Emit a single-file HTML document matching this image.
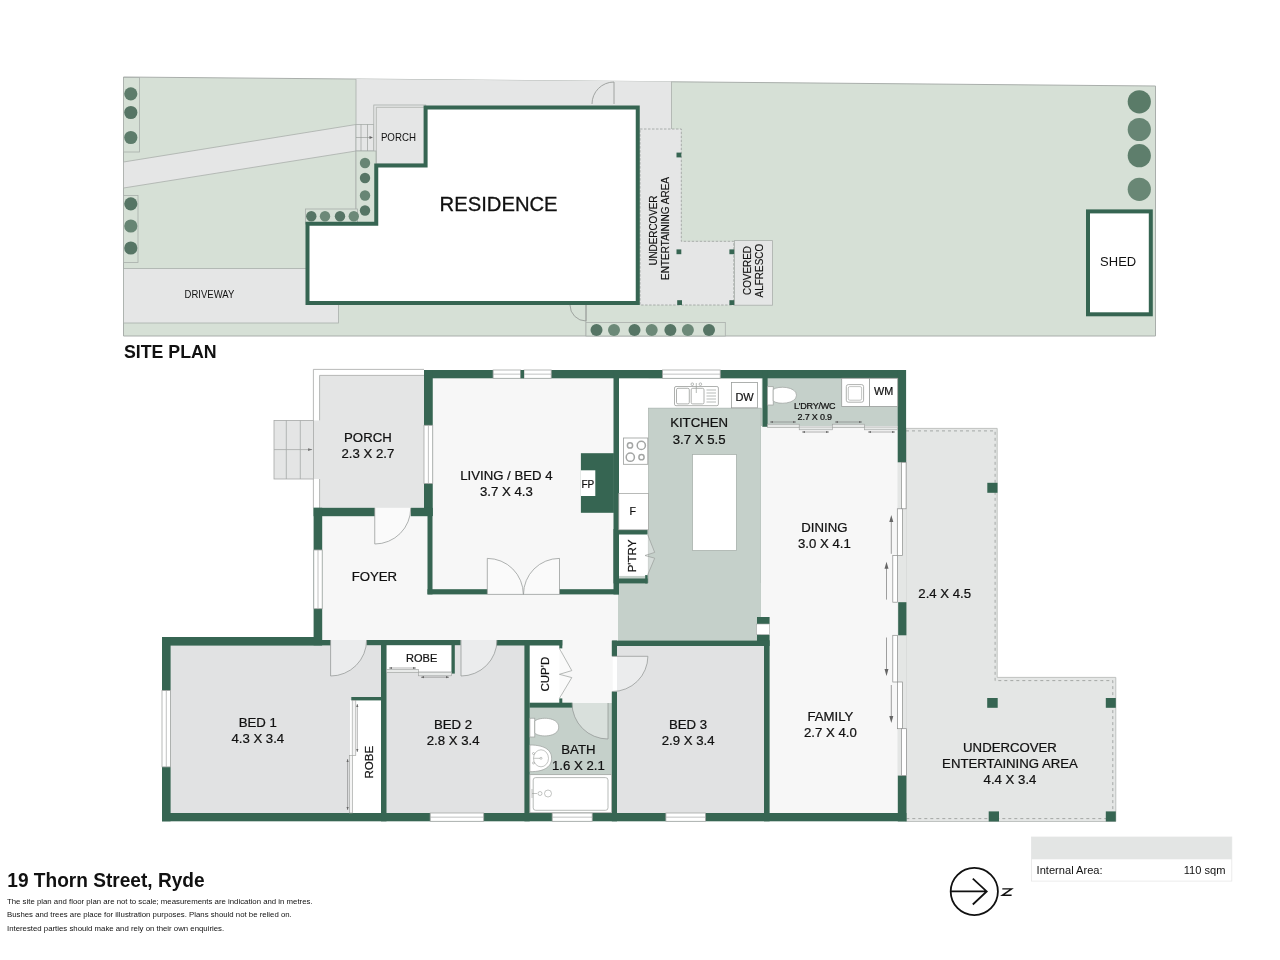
<!DOCTYPE html>
<html><head><meta charset="utf-8">
<style>
html,body{margin:0;padding:0;background:#fff;}
body{width:1280px;height:960px;overflow:hidden;}
svg{display:block;will-change:transform;}
text{font-family:"Liberation Sans",sans-serif;fill:#111;}
</style></head>
<body>
<svg width="1280" height="960" viewBox="0 0 1280 960">
<rect x="0" y="0" width="1280" height="960" fill="#fff"/>

<!-- ================= SITE PLAN ================= -->
<g id="site">
  <!-- lot -->
  <polygon points="123.5,77 1155.5,86 1155.5,336 123.5,336" fill="#d6e0d6" stroke="#a9aeab" stroke-width="1"/>
  <!-- gray areas -->
  <polygon points="356,79 671.5,81.6 671.5,129 640,129 640,151 356,151" fill="#e5e6e6"/>
  <polygon points="123.5,162 356,124.5 356,151 123.5,188" fill="#e5e6e6" stroke="#a9aeab" stroke-width="0.8"/>
  <rect x="123.5" y="268.5" width="215" height="54.5" fill="#e5e6e6" stroke="#a9aeab" stroke-width="0.8"/>
  <line x1="356" y1="79" x2="356" y2="124.5" stroke="#a9aeab" stroke-width="0.8"/>
  <line x1="356" y1="151" x2="356" y2="209" stroke="#a9aeab" stroke-width="0.8"/>
  <line x1="671.5" y1="81.6" x2="671.5" y2="129" stroke="#a9aeab" stroke-width="0.8"/>
  <line x1="586" y1="305" x2="586" y2="336" stroke="#a9aeab" stroke-width="0.8"/>
  <!-- gates -->
  <path d="M614,82 L614,104 M614,82 A22,22 0 0 0 592,104" fill="none" stroke="#8f9391" stroke-width="0.8"/>
  <path d="M586,305 L586,321 M586,321 A16,16 0 0 1 570,305" fill="none" stroke="#8f9391" stroke-width="0.8"/>
  <!-- steps -->
  <rect x="356" y="124.5" width="18" height="26.5" fill="#e5e6e6" stroke="#a9aeab" stroke-width="0.8"/>
  <path d="M361,124.5V151 M367.5,124.5V151 M356,137.5H372" stroke="#8f9391" stroke-width="0.6" fill="none"/>
  <path d="M369.5,136 L373,137.5 L369.5,139 Z" fill="#666"/>
  <!-- porch -->
  <rect x="373.8" y="105" width="52" height="59" fill="#e5e6e6" stroke="#a9aeab" stroke-width="0.8"/>
  <path d="M376.3,164 V107.3 H425" fill="none" stroke="#a9aeab" stroke-width="0.8"/>
  <!-- hedges -->
  <g fill="#d6e0d6" stroke="#a9aeab" stroke-width="0.8">
    <rect x="123.5" y="77.5" width="16" height="74.5"/>
    <rect x="123.5" y="195.5" width="14.5" height="67"/>
    <rect x="356" y="151" width="20" height="72"/>
    <rect x="305.5" y="209" width="52" height="15"/>
    <rect x="586" y="322.4" width="139.3" height="13.6"/>
  </g>
  <g fill="#5d7c6b">
    <circle cx="130.8" cy="93.8" r="6.6"/><circle cx="130.8" cy="112.5" r="6.6" fill="#567565"/><circle cx="130.8" cy="137.5" r="6.6"/>
    <circle cx="130.8" cy="203.8" r="6.6" fill="#567565"/><circle cx="130.8" cy="226" r="6.6" fill="#678574"/><circle cx="130.8" cy="248" r="6.6" fill="#567565"/>
    <circle cx="365" cy="163" r="5.2" fill="#678574"/><circle cx="365" cy="178" r="5.2" fill="#567565"/><circle cx="365" cy="195.5" r="5.2" fill="#678574"/><circle cx="365" cy="210.5" r="5.2" fill="#567565"/>
    <circle cx="311.3" cy="216.3" r="5.2" fill="#567565"/><circle cx="325" cy="216.3" r="5.2" fill="#6c8978"/><circle cx="340" cy="216.3" r="5.2" fill="#567565"/><circle cx="353.8" cy="216.3" r="5.2" fill="#6c8978"/>
    <circle cx="596.5" cy="330" r="6" fill="#567565"/><circle cx="614" cy="330" r="6" fill="#6c8978"/><circle cx="634.5" cy="330" r="6" fill="#567565"/><circle cx="651.7" cy="330" r="6" fill="#6c8978"/><circle cx="670.4" cy="330" r="6" fill="#567565"/><circle cx="687.9" cy="330" r="6" fill="#6c8978"/><circle cx="709" cy="330" r="6" fill="#567565"/>
    <circle cx="1139.3" cy="101.8" r="11.6" fill="#5a7b68"/><circle cx="1139.3" cy="129.5" r="11.6" fill="#678574"/><circle cx="1139.3" cy="155.7" r="11.6" fill="#5e7e6c"/><circle cx="1139.3" cy="189.3" r="11.6" fill="#698775"/>
  </g>
  <!-- undercover & alfresco -->
  <polygon points="640,129 681.3,129 681.3,241.3 733.8,241.3 733.8,305 640,305" fill="#e5e6e6" stroke="#9a9e9c" stroke-width="0.8" stroke-dasharray="2.5,1.5"/>
  <rect x="734.6" y="240.6" width="38" height="64.6" fill="#e5e6e6" stroke="#a9aeab" stroke-width="0.8"/>
  <g fill="#366552">
    <rect x="676.5" y="152.6" width="4.8" height="4.8"/>
    <rect x="676.5" y="249.4" width="4.8" height="4.8"/>
    <rect x="729.4" y="249.4" width="4.8" height="4.8"/>
    <rect x="677.2" y="300.2" width="4.8" height="4.8"/>
    <rect x="729.4" y="300.2" width="4.8" height="4.8"/>
  </g>
  <!-- residence -->
  <polygon points="425.6,107.5 637.75,107.5 637.75,303.1 307.5,303.1 307.5,223.75 376.25,223.75 376.25,165.6 425.6,165.6" fill="#fff" stroke="#366552" stroke-width="4" stroke-linejoin="miter"/>
  <!-- shed -->
  <rect x="1088" y="211.4" width="62.8" height="102.9" fill="#fff" stroke="#366552" stroke-width="4"/>
  <!-- labels -->
  <text x="184.6" y="298" font-size="10.4" textLength="49.7" lengthAdjust="spacingAndGlyphs">DRIVEWAY</text>
  <text x="380.9" y="140.6" font-size="11" textLength="35.1" lengthAdjust="spacingAndGlyphs">PORCH</text>
  <text x="439.6" y="211.4" font-size="20.6" textLength="118" lengthAdjust="spacingAndGlyphs" stroke="#111" stroke-width="0.3">RESIDENCE</text>
  <text x="1100.1" y="265.9" font-size="13.6" textLength="36.1" lengthAdjust="spacingAndGlyphs">SHED</text>
  <g transform="translate(656.9,230.6) rotate(-90)"><text x="-35" y="0" font-size="10.8" textLength="70" lengthAdjust="spacingAndGlyphs" stroke="#111" stroke-width="0.15">UNDERCOVER</text></g>
  <g transform="translate(669.4,228.45) rotate(-90)"><text x="-51.5" y="0" font-size="10.8" textLength="103" lengthAdjust="spacingAndGlyphs" stroke="#111" stroke-width="0.15">ENTERTAINING AREA</text></g>
  <g transform="translate(750.8,270.5) rotate(-90)"><text x="-24.5" y="0" font-size="10.8" textLength="49" lengthAdjust="spacingAndGlyphs" stroke="#111" stroke-width="0.15">COVERED</text></g>
  <g transform="translate(763,270.6) rotate(-90)"><text x="-26.8" y="0" font-size="10.8" textLength="53.6" lengthAdjust="spacingAndGlyphs" stroke="#111" stroke-width="0.15">ALFRESCO</text></g>
  <text x="123.9" y="358" font-size="18.6" font-weight="bold" textLength="92.8" lengthAdjust="spacingAndGlyphs">SITE PLAN</text>
</g>

<g id="plan">
  <!-- ===== floor fills ===== -->
  <!-- porch -->
  <path d="M313.4,369.4 H424 V508 H313.4 Z" fill="#fff" stroke="none"/>
  <path d="M319.6,375.4 H424 V508 H319.6 V479 H313.4 V420.4 H319.6 Z" fill="#e4e5e5"/>
  <path d="M313.4,508 V479 M313.4,420.4 V369.4 H424" fill="none" stroke="#a6a8a7" stroke-width="0.8"/>
  <path d="M319.6,420.4 V375.4 H424 M319.6,479 V508" fill="none" stroke="#a6a8a7" stroke-width="0.8"/>
  <!-- stairs -->
  <rect x="274" y="420.4" width="39.4" height="58.6" fill="#e4e5e5" stroke="#a6a8a7" stroke-width="0.8"/>
  <path d="M286.3,420.4V479 M300.3,420.4V479 M274,449.6H312" fill="none" stroke="#a6a8a7" stroke-width="0.8"/>
  <path d="M308,448.3 L312.5,449.6 L308,450.9 Z" fill="#777"/>
  <!-- living, foyer, hall -->
  <rect x="432" y="378" width="182" height="212" fill="#f7f7f7"/>
  <rect x="322" y="507.8" width="297" height="133" fill="#f7f7f7"/>
  <rect x="562" y="640" width="51" height="64" fill="#f7f7f7"/>
  <!-- kitchen -->
  <rect x="618" y="378" width="144" height="263" fill="#c5d0ca"/>
  <rect x="618.8" y="378.3" width="29.7" height="197" fill="#fff"/>
  <rect x="618.8" y="378.3" width="143" height="29.8" fill="#fff"/>
  <rect x="648.5" y="408.1" width="112.5" height="232.6" fill="#c5d0ca" stroke="#a8b1ac" stroke-width="0.6"/>
  <rect x="618.8" y="583" width="142" height="58" fill="#c5d0ca"/>
  <!-- island -->
  <rect x="692.5" y="454.5" width="43.9" height="96" fill="#fff" stroke="#a8b1ac" stroke-width="0.8"/>
  <!-- laundry -->
  <rect x="767" y="378" width="131" height="50" fill="#c5d0ca"/>
  <!-- dining / family -->
  <rect x="761" y="426" width="137.5" height="388" fill="#f7f7f7"/>
  <!-- bedrooms -->
  <rect x="170" y="640" width="212" height="174" fill="#e1e2e3"/>
  <rect x="386" y="640" width="139" height="174" fill="#e1e2e3"/>
  <rect x="617" y="645.5" width="148" height="168" fill="#e1e2e3"/>
  <!-- bath -->
  <rect x="529.5" y="703" width="82.5" height="72" fill="#c5d0ca"/>
  <!-- robes & cupboards -->
  <rect x="350" y="700" width="31.5" height="113.5" fill="#fff"/>
  <rect x="386.5" y="645" width="65" height="26" fill="#fff"/>
  <rect x="529.5" y="645" width="30" height="58" fill="#fff"/>
  <rect x="618.8" y="534.4" width="26.5" height="41.5" fill="#fff"/>
  <!-- undercover -->
  <polygon points="906,428.4 997.2,428.4 997.2,677.4 1115.8,677.4 1115.8,821.5 906,821.5" fill="#e4e6e5" stroke="#b3b6b4" stroke-width="0.8"/>
  <polyline points="906,430.9 995.1,430.9 995.1,680.6 1112.8,680.6 1112.8,818.6 906,818.6" fill="none" stroke="#8a8e8c" stroke-width="0.7" stroke-dasharray="3,3"/>
  <rect x="897.5" y="462" width="9" height="314" fill="#e4e6e5"/>

  <!-- ===== walls ===== -->
  <g fill="#366552">
    <!-- top wall -->
    <rect x="424" y="370" width="482" height="8.3"/>
    <!-- living left wall -->
    <rect x="424" y="370" width="8.75" height="146"/>
    <rect x="427.5" y="508" width="5" height="86.4"/>
    <!-- porch bottom / foyer top -->
    <rect x="313.6" y="507.8" width="61.2" height="8.4"/>
    <rect x="410.8" y="507.8" width="21.7" height="8.4"/>
    <!-- foyer left -->
    <rect x="313.6" y="507.8" width="8.6" height="137.5"/>
    <!-- living bottom -->
    <rect x="427.5" y="589.2" width="59.8" height="5.2"/>
    <rect x="559.5" y="589.2" width="59.5" height="5.2"/>
    <!-- living right -->
    <rect x="613.5" y="370" width="5.5" height="224.4"/>
    <!-- fireplace -->
    <rect x="580.9" y="453.2" width="33" height="59.6"/>
    <!-- pantry walls -->
    <rect x="614.4" y="529.8" width="33.2" height="4.7"/>
    <rect x="614.4" y="578.5" width="33.2" height="4.9"/>
    <rect x="645.2" y="575.1" width="2.4" height="8.3"/>
    <rect x="613.5" y="529" width="5.3" height="54.4"/>
    <!-- laundry left -->
    <rect x="762.4" y="370" width="5.2" height="56.8"/>
    <!-- right wall -->
    <rect x="897.7" y="370" width="8.4" height="92.3"/>
    <rect x="898.2" y="602.2" width="8.2" height="33.1"/>
    <rect x="897.8" y="775.6" width="8.6" height="45.8"/>
    <!-- kitchen stub -->
    <rect x="757" y="617" width="12.6" height="7"/>
    <rect x="757" y="634.5" width="12.6" height="6.5"/>
    <rect x="756.6" y="624" width="12.9" height="10.5" fill="#fff" stroke="#a6a8a7" stroke-width="0.6"/>
    <!-- bedroom top walls -->
    <rect x="162" y="637" width="160" height="8.6"/>
    <rect x="322" y="640" width="8.6" height="5.4"/>
    <rect x="366.6" y="640" width="94" height="5.2"/>
    <rect x="496.6" y="640" width="65.7" height="5.5"/>
    <rect x="559.3" y="640" width="3" height="8.4"/>
    <rect x="612.2" y="640.6" width="157.4" height="5.4"/>
    <!-- bed 1 left -->
    <rect x="162" y="637" width="8.6" height="184.3"/>
    <!-- bed1/bed2 wall -->
    <rect x="381" y="640" width="5.5" height="181.3"/>
    <!-- bed1 robe top -->
    <rect x="351.3" y="697" width="29.7" height="3.4"/>
    <!-- bed2 robe right -->
    <rect x="451.5" y="645" width="3.3" height="28.6"/>
    <!-- bed2 right -->
    <rect x="524.4" y="640" width="5.3" height="181.3"/>
    <!-- cupboard bottom stub -->
    <rect x="559.3" y="698.4" width="3" height="6"/>
    <!-- bath top -->
    <rect x="529.5" y="702.7" width="42.9" height="4.9"/>
    <!-- bed 3 left -->
    <rect x="611.8" y="640.6" width="5.2" height="15.7"/>
    <rect x="611.8" y="691.5" width="5.2" height="129.8"/>
    <!-- bed 3 right -->
    <rect x="764" y="640.6" width="5.6" height="180.7"/>
    <!-- bottom wall -->
    <rect x="162" y="813" width="744.4" height="8.3"/>
  </g>
</g>

<g id='details'>
<rect x="493.1" y="370" width="27.6" height="8.3" fill="#fff" stroke="#a6a8a7" stroke-width="0.8"/>
<line x1="493.1" y1="374.15" x2="520.7" y2="374.15" stroke="#a6a8a7" stroke-width="0.7"/>
<rect x="524" y="370" width="27.2" height="8.3" fill="#fff" stroke="#a6a8a7" stroke-width="0.8"/>
<line x1="524" y1="374.15" x2="551.2" y2="374.15" stroke="#a6a8a7" stroke-width="0.7"/>
<rect x="520.7" y="370" width="3.3" height="8.3" fill="#366552"/>
<rect x="662.6" y="370" width="57.6" height="8.3" fill="#fff" stroke="#a6a8a7" stroke-width="0.8"/>
<line x1="662.6" y1="374.15" x2="720.2" y2="374.15" stroke="#a6a8a7" stroke-width="0.7"/>
<rect x="424" y="425.3" width="8.75" height="58.1" fill="#fff" stroke="#a6a8a7" stroke-width="0.8"/>
<line x1="428.375" y1="425.3" x2="428.375" y2="483.40000000000003" stroke="#a6a8a7" stroke-width="0.7"/>
<rect x="313.8" y="550" width="8.4" height="58.7" fill="#fff" stroke="#a6a8a7" stroke-width="0.8"/>
<line x1="318.0" y1="550" x2="318.0" y2="608.7" stroke="#a6a8a7" stroke-width="0.7"/>
<rect x="162" y="690.6" width="8.6" height="76.3" fill="#fff" stroke="#a6a8a7" stroke-width="0.8"/>
<line x1="166.3" y1="690.6" x2="166.3" y2="766.9" stroke="#a6a8a7" stroke-width="0.7"/>
<rect x="430.2" y="813" width="53.5" height="8.3" fill="#fff" stroke="#a6a8a7" stroke-width="0.8"/>
<line x1="430.2" y1="817.15" x2="483.7" y2="817.15" stroke="#a6a8a7" stroke-width="0.7"/>
<rect x="552.2" y="813" width="40" height="8.3" fill="#fff" stroke="#a6a8a7" stroke-width="0.8"/>
<line x1="552.2" y1="817.15" x2="592.2" y2="817.15" stroke="#a6a8a7" stroke-width="0.7"/>
<rect x="665.9" y="813" width="39.5" height="8.3" fill="#fff" stroke="#a6a8a7" stroke-width="0.8"/>
<line x1="665.9" y1="817.15" x2="705.4" y2="817.15" stroke="#a6a8a7" stroke-width="0.7"/>
<rect x="901.5" y="462.3" width="4.6" height="46.5" fill="#fff" stroke="#8a8c8b" stroke-width="0.7"/>
<rect x="897.3" y="508.8" width="5.2" height="46.7" fill="#fff" stroke="#8a8c8b" stroke-width="0.7"/>
<rect x="892.8" y="555.5" width="4.8" height="46.7" fill="#fff" stroke="#8a8c8b" stroke-width="0.7"/>
<rect x="892.8" y="635.3" width="4.8" height="46.7" fill="#fff" stroke="#8a8c8b" stroke-width="0.7"/>
<rect x="897.6" y="682" width="4.8" height="46.7" fill="#fff" stroke="#8a8c8b" stroke-width="0.7"/>
<rect x="901.4" y="728.7" width="5" height="46.9" fill="#fff" stroke="#8a8c8b" stroke-width="0.7"/>
<line x1="891.3" y1="553.8" x2="891.3" y2="521" stroke="#777" stroke-width="0.7"/>
<path d="M889.3,522 L891.3,515 L893.3,522 Z" fill="#666"/>
<line x1="886.5" y1="599.6" x2="886.5" y2="567.7" stroke="#777" stroke-width="0.7"/>
<path d="M884.5,568.7 L886.5,561.7 L888.5,568.7 Z" fill="#666"/>
<line x1="886.5" y1="637.5" x2="886.5" y2="670" stroke="#777" stroke-width="0.7"/>
<path d="M884.5,669 L886.5,676 L888.5,669 Z" fill="#666"/>
<line x1="891.3" y1="685" x2="891.3" y2="717" stroke="#777" stroke-width="0.7"/>
<path d="M889.3,716 L891.3,723 L893.3,716 Z" fill="#666"/>
<path d="M374.75,508 L374.75,544 A36,36 0 0 0 410.75,508" fill="#ffffff" fill-opacity="0.35" stroke="#8e9290" stroke-width="0.7"/>
<path d="M487.3,594.4 L487.3,558.4 A36,36 0 0 1 523.3,594.4" fill="#ffffff" fill-opacity="0.35" stroke="#8e9290" stroke-width="0.7"/>
<path d="M559.5,594.4 L559.5,558.4 A36,36 0 0 0 523.5,594.4" fill="#ffffff" fill-opacity="0.35" stroke="#8e9290" stroke-width="0.7"/>
<path d="M487.3,594.4H559.5" stroke="#8e9290" stroke-width="0.7"/>
<path d="M330.6,640 L330.6,676 A36,36 0 0 0 366.6,640" fill="#ffffff" fill-opacity="0.35" stroke="#8e9290" stroke-width="0.7"/>
<path d="M461,640 L461,676 A36,36 0 0 0 497,640" fill="#ffffff" fill-opacity="0.35" stroke="#8e9290" stroke-width="0.7"/>
<path d="M608,703 L608,739 A36,36 0 0 1 572,703" fill="#ffffff" fill-opacity="0.35" stroke="#8e9290" stroke-width="0.7"/>
<path d="M612.2,656.3 L647.9,656.3 A35.5,35.5 0 0 1 612.2,691.5" fill="#ffffff" fill-opacity="0.35" stroke="#8e9290" stroke-width="0.7"/>
<g fill="#fff" stroke="#9a9d9b" stroke-width="0.8"><rect x="674.5" y="386.5" width="43.9" height="19.2" rx="1.5"/><rect x="676.5" y="388.3" width="12.8" height="15.6" rx="1.5"/><rect x="691.2" y="388.3" width="12.8" height="15.6" rx="1.5"/></g>
<path d="M706.5,390H716 M706.5,393H716 M706.5,396H716 M706.5,399H716 M706.5,402H716" stroke="#9a9d9b" stroke-width="0.7"/>
<g fill="none" stroke="#9a9d9b" stroke-width="0.7"><circle cx="692.3" cy="384.2" r="1.3"/><circle cx="700.4" cy="384.2" r="1.3"/><path d="M696.3,383 V393"/></g>
<rect x="731.5" y="382.5" width="26" height="25.3" fill="#fff" stroke="#9a9d9b" stroke-width="0.8"/>
<rect x="841.7" y="378.3" width="27.8" height="28.1" fill="#fff" stroke="#9a9d9b" stroke-width="0.8"/>
<rect x="846.3" y="384.6" width="17.3" height="17.6" rx="2" fill="#fff" stroke="#9a9d9b" stroke-width="0.8"/>
<rect x="848.3" y="386.6" width="13.3" height="13.6" rx="1.5" fill="none" stroke="#9a9d9b" stroke-width="0.6"/>
<rect x="869.5" y="378.3" width="28.2" height="28.1" fill="#fff" stroke="#9a9d9b" stroke-width="0.8"/>
<rect x="623.6" y="438" width="24.2" height="26.3" fill="#fff" stroke="#9a9d9b" stroke-width="0.8"/>
<g fill="none" stroke="#a3a5a4" stroke-width="1.5"><circle cx="630" cy="445.4" r="2.6"/><circle cx="641.3" cy="445.4" r="4.1"/><circle cx="630.3" cy="457.2" r="4.1"/><circle cx="641.5" cy="457.2" r="2.6"/></g>
<rect x="618.8" y="493.5" width="29.7" height="36.3" fill="#fff" stroke="#9a9d9b" stroke-width="0.7"/>
<rect x="767.6" y="386.7" width="5.6" height="18.3" fill="#fff" stroke="#9a9d9b" stroke-width="0.7"/>
<path d="M773.2,389.5 C778,385.5 796.5,386.5 796.5,395.2 C796.5,404 778,405 773.2,401 Z" fill="#fff" stroke="#9a9d9b" stroke-width="0.7"/>
<rect x="767.6" y="424.2" width="31.6" height="3.2" fill="#e8eae9" stroke="#9a9d9b" stroke-width="0.6"/>
<rect x="799.2" y="427" width="33.1" height="2.8" fill="#e8eae9" stroke="#9a9d9b" stroke-width="0.6"/>
<rect x="832.3" y="424.2" width="32.3" height="3.2" fill="#e8eae9" stroke="#9a9d9b" stroke-width="0.6"/>
<rect x="864.6" y="427" width="33.1" height="2.8" fill="#e8eae9" stroke="#9a9d9b" stroke-width="0.6"/>
<path d="M770,422H796" stroke="#666" stroke-width="0.5"/>
<path d="M770,422 l3,-1.1 v2.2 Z M796,422 l-3,-1.1 v2.2 Z" fill="#666"/>
<path d="M802,432H829" stroke="#666" stroke-width="0.5"/>
<path d="M802,432 l3,-1.1 v2.2 Z M829,432 l-3,-1.1 v2.2 Z" fill="#666"/>
<path d="M835,422H862" stroke="#666" stroke-width="0.5"/>
<path d="M835,422 l3,-1.1 v2.2 Z M862,422 l-3,-1.1 v2.2 Z" fill="#666"/>
<path d="M868,432H895" stroke="#666" stroke-width="0.5"/>
<path d="M868,432 l3,-1.1 v2.2 Z M895,432 l-3,-1.1 v2.2 Z" fill="#666"/>
<rect x="529.9" y="718.2" width="4.9" height="18.8" fill="#fff" stroke="#9a9d9b" stroke-width="0.7"/>
<path d="M534.8,721 C540,716.5 558.7,717 558.7,727.1 C558.7,737.2 540,737.7 534.8,733.2 Z" fill="#fff" stroke="#9a9d9b" stroke-width="0.7"/>
<path d="M529.9,745 C546,745 551.6,751 551.6,758.3 C551.6,765.7 546,771.7 529.9,771.7 Z" fill="#fff" stroke="#9a9d9b" stroke-width="0.7"/>
<ellipse cx="541" cy="758.3" rx="7.5" ry="8.5" fill="none" stroke="#9a9d9b" stroke-width="0.6"/>
<g fill="none" stroke="#9a9d9b" stroke-width="0.6"><circle cx="533.5" cy="753.5" r="1"/><circle cx="533.5" cy="763" r="1"/><path d="M533.5,758.3H540"/><circle cx="541" cy="758.3" r="1"/></g>
<rect x="529.9" y="774.7" width="81.7" height="38" fill="#fff" stroke="#9a9d9b" stroke-width="0.7"/>
<rect x="533.2" y="777.6" width="74.8" height="32.7" rx="2.5" fill="#fff" stroke="#9a9d9b" stroke-width="0.7"/>
<g fill="none" stroke="#9a9d9b" stroke-width="0.6"><circle cx="548" cy="793.5" r="3.5"/><circle cx="540" cy="793.5" r="2"/><path d="M532,789V798 M532,793.5H537"/></g>
<rect x="386.5" y="669.3" width="31.8" height="3" fill="#e8eae9" stroke="#9a9d9b" stroke-width="0.6"/>
<rect x="418.3" y="672.2" width="33.2" height="3.6" fill="#e8eae9" stroke="#9a9d9b" stroke-width="0.6"/>
<path d="M389,668H416" stroke="#666" stroke-width="0.5"/>
<path d="M389,668 l3,-1.1 v2.2 Z M416,668 l-3,-1.1 v2.2 Z" fill="#666"/>
<path d="M421,677.2H449" stroke="#666" stroke-width="0.5"/>
<path d="M421,677.2 l3,-1.1 v2.2 Z M449,677.2 l-3,-1.1 v2.2 Z" fill="#666"/>
<rect x="352.2" y="700.4" width="3.6" height="55.2" fill="#f4f4f4" stroke="#9a9d9b" stroke-width="0.6"/>
<rect x="349.6" y="755.6" width="3" height="57.4" fill="#f4f4f4" stroke="#9a9d9b" stroke-width="0.6"/>
<path d="M357.3,704V752" stroke="#666" stroke-width="0.5"/>
<path d="M357.3,704 l-1.1,3 h2.2 Z M357.3,752 l-1.1,-3 h2.2 Z" fill="#666"/>
<path d="M347.6,759V810" stroke="#666" stroke-width="0.5"/>
<path d="M347.6,759 l-1.1,3 h2.2 Z M347.6,810 l-1.1,-3 h2.2 Z" fill="#666"/>
<path d="M647.6,534.5 L654.7,552.4 L645,555.5 L654.7,558.2 L647.6,575.1" fill="#e6e8e7" fill-opacity="0.5" stroke="#9a9d9b" stroke-width="0.7"/>
<path d="M559.4,648.4 L571.8,670.6 L559.4,674.3 L571.8,677.6 L559.4,698.4" fill="#fafafa" stroke="#9a9d9b" stroke-width="0.7"/>
<rect x="580.9" y="470.3" width="14.4" height="25.7" fill="#fff"/>
<rect x="987.3" y="482.8" width="10.2" height="10" fill="#366552"/>
<rect x="987.2" y="698" width="10.5" height="9.8" fill="#366552"/>
<rect x="1105.8" y="698" width="10" height="9.8" fill="#366552"/>
<rect x="988.7" y="811.4" width="10.3" height="10.1" fill="#366552"/>
<rect x="1105.8" y="811.4" width="10" height="10.1" fill="#366552"/>
<text x="367.9" y="441.90" font-size="13.2" text-anchor="middle" stroke="#111" stroke-width="0.22" >PORCH</text>
<text x="367.9" y="457.80" font-size="13.2" text-anchor="middle" stroke="#111" stroke-width="0.22" >2.3 X 2.7</text>
<text x="506.4" y="479.90" font-size="13.2" text-anchor="middle" stroke="#111" stroke-width="0.22" >LIVING / BED 4</text>
<text x="506.4" y="496.10" font-size="13.2" text-anchor="middle" stroke="#111" stroke-width="0.22" >3.7 X 4.3</text>
<text x="699.1" y="427.40" font-size="13.2" text-anchor="middle" stroke="#111" stroke-width="0.22" >KITCHEN</text>
<text x="699.1" y="443.60" font-size="13.2" text-anchor="middle" stroke="#111" stroke-width="0.22" >3.7 X 5.5</text>
<text x="824.4" y="531.70" font-size="13.2" text-anchor="middle" stroke="#111" stroke-width="0.22" >DINING</text>
<text x="824.4" y="547.90" font-size="13.2" text-anchor="middle" stroke="#111" stroke-width="0.22" >3.0 X 4.1</text>
<text x="830.4" y="720.90" font-size="13.2" text-anchor="middle" stroke="#111" stroke-width="0.22" >FAMILY</text>
<text x="830.4" y="737.10" font-size="13.2" text-anchor="middle" stroke="#111" stroke-width="0.22" >2.7 X 4.0</text>
<text x="374.4" y="580.90" font-size="13.2" text-anchor="middle" stroke="#111" stroke-width="0.22" >FOYER</text>
<text x="257.8" y="726.90" font-size="13.2" text-anchor="middle" stroke="#111" stroke-width="0.22" >BED 1</text>
<text x="257.8" y="743.10" font-size="13.2" text-anchor="middle" stroke="#111" stroke-width="0.22" >4.3 X 3.4</text>
<text x="453.1" y="728.80" font-size="13.2" text-anchor="middle" stroke="#111" stroke-width="0.22" >BED 2</text>
<text x="453.1" y="745.00" font-size="13.2" text-anchor="middle" stroke="#111" stroke-width="0.22" >2.8 X 3.4</text>
<text x="688.1" y="728.60" font-size="13.2" text-anchor="middle" stroke="#111" stroke-width="0.22" >BED 3</text>
<text x="688.1" y="744.80" font-size="13.2" text-anchor="middle" stroke="#111" stroke-width="0.22" >2.9 X 3.4</text>
<text x="578.4" y="754.20" font-size="13.2" text-anchor="middle" stroke="#111" stroke-width="0.22" >BATH</text>
<text x="578.4" y="769.60" font-size="13.2" text-anchor="middle" stroke="#111" stroke-width="0.22" >1.6 X 2.1</text>
<text x="944.7" y="598.30" font-size="13.2" text-anchor="middle" stroke="#111" stroke-width="0.22" >2.4 X 4.5</text>
<text x="1010" y="752.30" font-size="13.2" text-anchor="middle" stroke="#111" stroke-width="0.22" >UNDERCOVER</text>
<text x="1010" y="768.20" font-size="13.2" text-anchor="middle" stroke="#111" stroke-width="0.22" >ENTERTAINING AREA</text>
<text x="1010" y="784.10" font-size="13.2" text-anchor="middle" stroke="#111" stroke-width="0.22" >4.4 X 3.4</text>
<text x="744.6" y="400.60" font-size="11" text-anchor="middle" stroke="#111" stroke-width="0.22" >DW</text>
<text x="883.6" y="395.00" font-size="10.8" text-anchor="middle" stroke="#111" stroke-width="0.22" >WM</text>
<text x="814.7" y="409.30" font-size="9" text-anchor="middle" stroke="#111" stroke-width="0.22" letter-spacing="-0.2">L'DRY/WC</text>
<text x="814.7" y="419.70" font-size="9" text-anchor="middle" stroke="#111" stroke-width="0.22" letter-spacing="-0.2">2.7 X 0.9</text>
<text x="632.8" y="515.00" font-size="10.5" text-anchor="middle" stroke="#111" stroke-width="0.22" >F</text>
<text x="587.8" y="487.60" font-size="10" text-anchor="middle" stroke="#111" stroke-width="0.22" >FP</text>
<text x="421.7" y="661.60" font-size="11" text-anchor="middle" stroke="#111" stroke-width="0.22" >ROBE</text>
<g transform="translate(372.9,762.2) rotate(-90)"><text x="0" y="0" font-size="11.5" text-anchor="middle" stroke="#111" stroke-width="0.22">ROBE</text></g>
<g transform="translate(548.8,674.1) rotate(-90)"><text x="0" y="0" font-size="11.5" text-anchor="middle" stroke="#111" stroke-width="0.22">CUP'D</text></g>
<g transform="translate(636.1,556) rotate(-90)"><text x="0" y="0" font-size="11.5" text-anchor="middle" stroke="#111" stroke-width="0.22">P'TRY</text></g>
<g fill="none" stroke="#111" stroke-width="1.8"><circle cx="974.3" cy="891.5" r="23.6"/><path d="M950.7,891.4 H986.5 M972.8,878.7 L986.7,891.4 L972.8,904.5"/></g>
<path d="M1002.3,888.9 H1011.6 L1002.3,895.3 H1011.6" fill="none" stroke="#111" stroke-width="1.4" stroke-linejoin="miter"/>
<rect x="1031.4" y="837" width="200.4" height="44.1" fill="#fff" stroke="#e6e6e6" stroke-width="0.8"/>
<rect x="1031.4" y="837" width="200.4" height="22.3" fill="#e3e5e4"/>
<text x="1036.6" y="874.2" font-size="11.1">Internal Area:</text>
<text x="1225.4" y="874.2" font-size="11.1" text-anchor="end">110 sqm</text>
</g>

<!-- ================= FOOTER ================= -->
<g id="footer">
  <text x="7.3" y="887" font-size="20" font-weight="bold" textLength="197.3" lengthAdjust="spacingAndGlyphs">19 Thorn Street, Ryde</text>
  <text x="7" y="903.5" font-size="7.8">The site plan and floor plan are not to scale; measurements are indication and in metres.</text>
  <text x="7" y="917" font-size="7.8">Bushes and trees are place for illustration purposes. Plans should not be relied on.</text>
  <text x="7" y="930.5" font-size="7.8">Interested parties should make and rely on their own enquiries.</text>
</g>
</svg>
</body></html>
